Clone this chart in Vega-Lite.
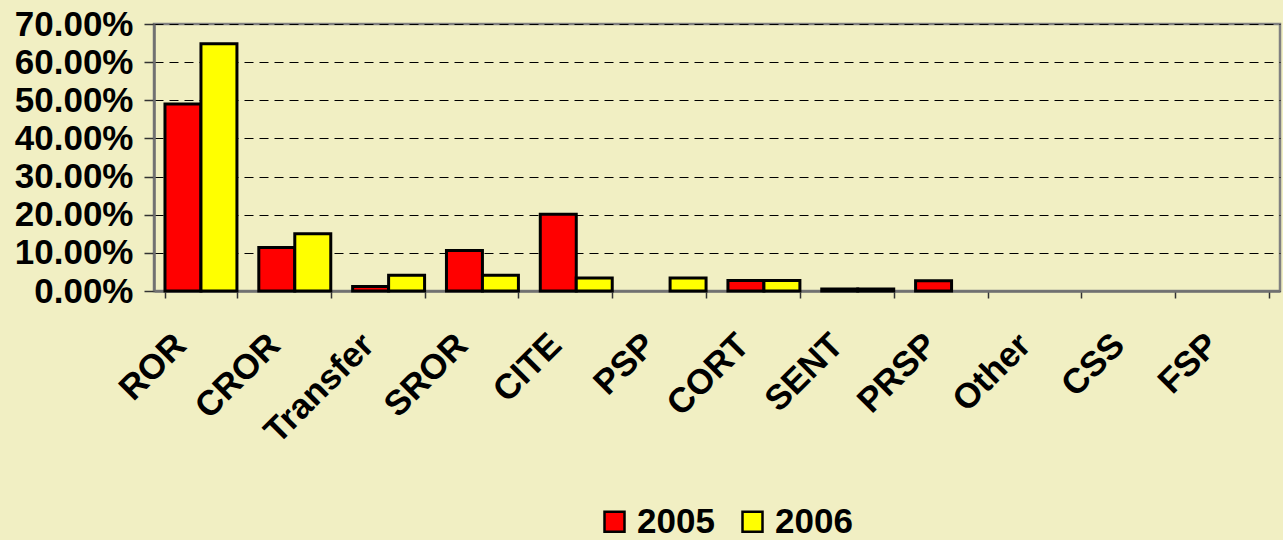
{
  "$schema": "https://vega.github.io/schema/vega-lite/v6.json",
  "width": 1126,
  "height": 267,
  "autosize": {"type": "none"},
  "padding": {"left": 154, "top": 24, "right": 3, "bottom": 249},
  "background": "#F1EFC3",
  "data": {
    "values": [
      {"cat": "ROR", "year": "2005", "value": 0.490},
      {"cat": "ROR", "year": "2006", "value": 0.648},
      {"cat": "CROR", "year": "2005", "value": 0.114},
      {"cat": "CROR", "year": "2006", "value": 0.150},
      {"cat": "Transfer", "year": "2005", "value": 0.012},
      {"cat": "Transfer", "year": "2006", "value": 0.041},
      {"cat": "SROR", "year": "2005", "value": 0.106},
      {"cat": "SROR", "year": "2006", "value": 0.041},
      {"cat": "CITE", "year": "2005", "value": 0.201},
      {"cat": "CITE", "year": "2006", "value": 0.034},
      {"cat": "PSP", "year": "2005", "value": 0},
      {"cat": "PSP", "year": "2006", "value": 0.034},
      {"cat": "CORT", "year": "2005", "value": 0.0275},
      {"cat": "CORT", "year": "2006", "value": 0.0275},
      {"cat": "SENT", "year": "2005", "value": 0.005},
      {"cat": "SENT", "year": "2006", "value": 0.005},
      {"cat": "PRSP", "year": "2005", "value": 0.027},
      {"cat": "PRSP", "year": "2006", "value": 0},
      {"cat": "Other", "year": "2005", "value": 0},
      {"cat": "Other", "year": "2006", "value": 0},
      {"cat": "CSS", "year": "2005", "value": 0},
      {"cat": "CSS", "year": "2006", "value": 0},
      {"cat": "FSP", "year": "2005", "value": 0},
      {"cat": "FSP", "year": "2006", "value": 0}
    ]
  },
  "mark": {"type": "bar", "stroke": "black"},
  "encoding": {
    "x": {
      "field": "cat", "type": "nominal", "sort": null,
      "scale": {"paddingInner": 0.233, "paddingOuter": 0.117},
      "axis": {
        "title": null, "labelAngle": -45, "labelAlign": "right", "labelBaseline": "middle",
        "labelFontSize": 35, "labelFontWeight": "bold", "labelFont": "Liberation Sans", "labelColor": "black",
        "labelPadding": 41, "labelOffset": -21, "tickBand": "extent", "tickSize": 7, "tickColor": "#333333", "tickWidth": 1.5,
        "domainColor": "#707070", "domainWidth": 2.5, "grid": false
      }
    },
    "xOffset": {"field": "year", "type": "nominal", "scale": {"paddingInner": 0, "paddingOuter": 0}},
    "y": {
      "field": "value", "type": "quantitative",
      "scale": {"domain": [0, 0.7], "nice": false},
      "axis": {
        "title": null, "values": [0, 0.1, 0.2, 0.3, 0.4, 0.5, 0.6, 0.7], "format": ".2%",
        "labelFontSize": 35, "labelFontWeight": "bold", "labelFont": "Liberation Sans", "labelColor": "black",
        "labelPadding": 11, "tickSize": 10, "tickColor": "#333333", "tickWidth": 1.5,
        "domainColor": "#707070", "domainWidth": 2.5,
        "grid": true, "gridColor": "black", "gridDash": [9, 6], "gridWidth": 1.2
      }
    },
    "color": {
      "field": "year", "type": "nominal",
      "scale": {"domain": ["2005", "2006"], "range": ["#FF0000", "#FFFF00"]},
      "legend": {
        "title": null, "orient": "none", "legendX": 443, "legendY": 480, "direction": "horizontal",
        "symbolType": "square", "symbolSize": 400, "symbolStrokeColor": "black", "symbolStrokeWidth": 2.5,
        "labelFontSize": 35, "labelFontWeight": "bold", "labelFont": "Liberation Sans", "labelColor": "black",
        "columnPadding": 20, "labelOffset": 5
      }
    },
    "strokeWidth": {"condition": {"test": "datum.value > 0", "value": 3}, "value": 0}
  },
  "config": {"view": {"stroke": "#808080", "strokeWidth": 2.5}}
}
